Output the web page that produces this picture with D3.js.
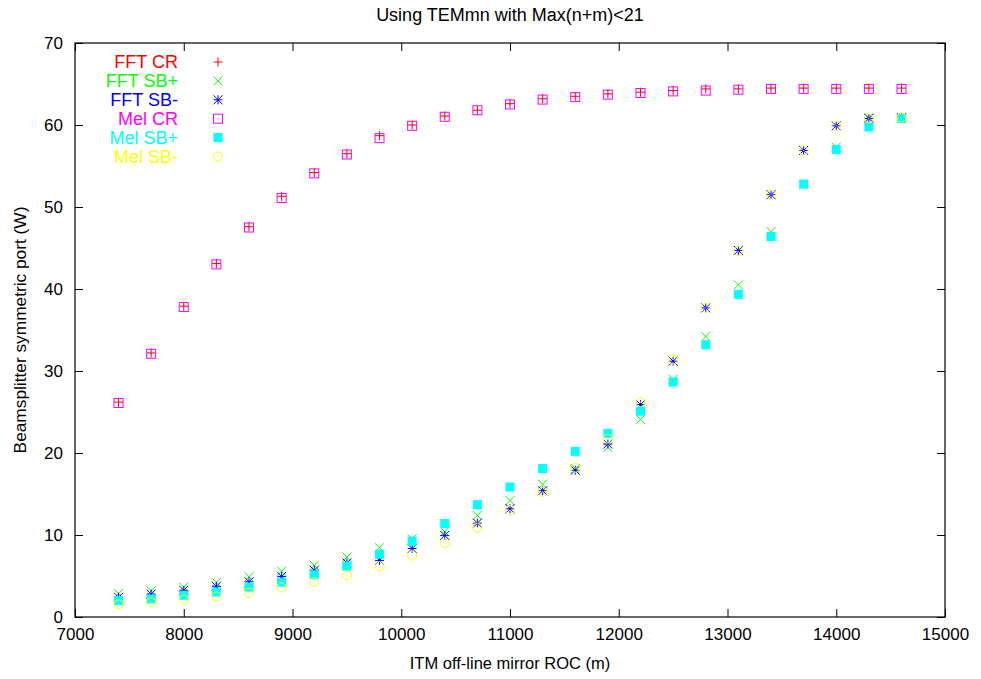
<!DOCTYPE html>
<html>
<head>
<meta charset="utf-8">
<script src="https://cdn.jsdelivr.net/npm/d3@7"></script>
<style>
  body { margin: 0; background: #fff; }
  text { font-family: "Liberation Sans", Arial, sans-serif; fill: #000; }
</style>
</head>
<body>
<div id="chart"></div>
<script>
// Chart data
var roc = [7400, 7700, 8000, 8300, 8600, 8900, 9200, 9500, 9800, 10100, 10400, 10700, 11000,
  11300, 11600, 11900, 12200, 12500, 12800, 13100, 13400, 13700, 14000, 14300, 14600];

var fftCR = [26.2, 32.2, 37.9, 43.1, 47.6, 51.3, 54.2, 56.5, 58.7, 60.0, 61.1, 61.8, 62.6,
  63.2, 63.5, 63.8, 64.0, 64.2, 64.4, 64.4, 64.5, 64.5, 64.5, 64.5, 64.5];
var fftSBp = [2.85, 3.2, 3.65, 4.2, 4.9, 5.6, 6.3, 7.3, 8.45, 9.55, 10.4, 12.4, 14.2,
  16.2, 18.1, 20.7, 24.1, 29.0, 34.2, 40.5, 47.0, 52.7, 57.3, 60.9, 60.9];
var fftSBm = [2.4, 2.8, 3.25, 3.75, 4.3, 4.95, 5.7, 6.6, 6.9, 8.35, 9.95, 11.45, 13.2,
  15.4, 17.9, 21.1, 25.9, 31.2, 37.7, 44.7, 51.5, 56.9, 59.9, 60.8, 60.9];
var melCR = [26.1, 32.1, 37.8, 43.0, 47.5, 51.1, 54.1, 56.4, 58.4, 59.9, 61.0, 61.8, 62.5,
  63.1, 63.4, 63.7, 63.9, 64.1, 64.2, 64.3, 64.4, 64.4, 64.4, 64.4, 64.4];
var melSBp = [2.0, 2.2, 2.65, 3.05, 3.65, 4.25, 5.15, 6.2, 7.65, 9.25, 11.4, 13.7, 15.85,
  18.1, 20.2, 22.4, 25.1, 28.65, 33.2, 39.35, 46.4, 52.8, 57.0, 59.75, 60.8];
var melSBm = [1.55, 1.8, 2.15, 2.5, 2.95, 3.6, 4.25, 5.1, 6.2, 7.5, 9.0, 10.9, 13.0,
  15.25, 18.2, 21.75, 26.2, 31.4, 37.7, 44.6, 51.5, 56.9, 59.9, 60.8, 60.9];

var seriesNames = ["FFT CR", "FFT SB+", "FFT SB-", "Mel CR", "Mel SB+", "Mel SB-"];
var seriesValues = [fftCR, fftSBp, fftSBm, melCR, melSBp, melSBm];
var seriesColors = ["#ff0000", "#00ff00", "#0000ff", "#ff00ff", "#00ffff", "#ffff00"];
var seriesShapes = ["plus", "cross", "star", "boxdot", "box", "circledot"];

var xTicks = d3.range(7000, 15001, 1000);
var yTicks = d3.range(0, 71, 10);

// SVG area and margins
var svgWidth = 981;
var svgHeight = 679;
var margin = { top: 43, right: 36, bottom: 62, left: 75 };
var chartWidth = svgWidth - margin.left - margin.right;
var chartHeight = svgHeight - margin.top - margin.bottom;

var svg = d3.select("#chart")
  .append("svg")
  .attr("width", svgWidth)
  .attr("height", svgHeight);

var chartGroup = svg.append("g")
  .attr("transform", `translate(${margin.left}, ${margin.top})`);

var xLinearScale = d3.scaleLinear().domain([7000, 15000]).range([0, chartWidth]);
var yLinearScale = d3.scaleLinear().domain([0, 70]).range([chartHeight, 0]);

// Axes: gnuplot style, ticks inward on all four sides
function styleAxis(g) {
  g.select(".domain").remove();
  g.selectAll(".tick line").attr("stroke", "#000").attr("stroke-width", 1);
  g.selectAll(".tick text").attr("font-size", 17).attr("fill", "#000");
}

chartGroup.append("g")
  .attr("transform", `translate(0, ${chartHeight})`)
  .call(d3.axisBottom(xLinearScale).tickValues(xTicks).tickSize(-8).tickPadding(11)
    .tickFormat(d3.format("d")))
  .call(styleAxis);
chartGroup.append("g")
  .call(d3.axisTop(xLinearScale).tickValues(xTicks).tickSize(-8).tickFormat(""))
  .call(styleAxis);
chartGroup.append("g")
  .call(d3.axisLeft(yLinearScale).tickValues(yTicks).tickSize(-8).tickPadding(12))
  .call(styleAxis);
chartGroup.append("g")
  .attr("transform", `translate(${chartWidth}, 0)`)
  .call(d3.axisRight(yLinearScale).tickValues(yTicks).tickSize(-8).tickFormat(""))
  .call(styleAxis);

chartGroup.append("rect")
  .attr("width", chartWidth)
  .attr("height", chartHeight)
  .attr("fill", "none")
  .attr("stroke", "#000")
  .attr("stroke-width", 1.2);

// Point symbols
function drawSymbol(g, shape, color) {
  var s = 4.5;
  if (shape === "plus" || shape === "star") {
    g.append("path").attr("d", `M${-s},0H${s}M0,${-s}V${s}`)
      .attr("stroke", color).attr("fill", "none");
  }
  if (shape === "cross" || shape === "star") {
    g.append("path").attr("d", `M${-s},${-s}L${s},${s}M${-s},${s}L${s},${-s}`)
      .attr("stroke", color).attr("fill", "none");
  }
  if (shape === "boxdot") {
    g.append("rect").attr("x", -s).attr("y", -s).attr("width", 2 * s).attr("height", 2 * s)
      .attr("stroke", color).attr("fill", "none");
    g.append("rect").attr("x", -0.5).attr("y", -0.5).attr("width", 1).attr("height", 1)
      .attr("fill", color);
  }
  if (shape === "box") {
    g.append("rect").attr("x", -s).attr("y", -s).attr("width", 2 * s).attr("height", 2 * s)
      .attr("fill", color);
  }
  if (shape === "circledot") {
    g.append("circle").attr("r", s).attr("stroke", color).attr("fill", "none");
    g.append("rect").attr("x", -0.5).attr("y", -0.5).attr("width", 1).attr("height", 1)
      .attr("fill", color);
  }
}

// Series, drawn in gnuplot order
seriesValues.forEach(function(values, i) {
  var pts = chartGroup.append("g").selectAll("g")
    .data(roc.map((x, j) => ({ x: x, y: values[j] })))
    .enter()
    .append("g")
    .attr("transform", d => `translate(${xLinearScale(d.x)}, ${yLinearScale(d.y)})`);
  pts.each(function() { drawSymbol(d3.select(this), seriesShapes[i], seriesColors[i]); });
});

// Legend
var legend = chartGroup.append("g").attr("transform", "translate(0, 19)");
seriesNames.forEach(function(name, i) {
  var row = legend.append("g").attr("transform", `translate(0, ${i * 18.9})`);
  row.append("text")
    .attr("x", 103)
    .attr("dy", "0.35em")
    .attr("text-anchor", "end")
    .attr("font-size", 18)
    .style("fill", seriesColors[i])
    .text(name);
  drawSymbol(row.append("g").attr("transform", "translate(143, 0)"), seriesShapes[i], seriesColors[i]);
});

// Titles
svg.append("text")
  .attr("x", 510)
  .attr("y", 21)
  .attr("text-anchor", "middle")
  .attr("font-size", 18)
  .text("Using TEMmn with Max(n+m)<21");

svg.append("text")
  .attr("x", 510)
  .attr("y", 669)
  .attr("text-anchor", "middle")
  .attr("font-size", 16.5)
  .text("ITM off-line mirror ROC (m)");

svg.append("text")
  .attr("transform", "translate(26, 330) rotate(-90)")
  .attr("text-anchor", "middle")
  .attr("font-size", 17.3)
  .text("Beamsplitter symmetric port (W)");
</script>
</body>
</html>
